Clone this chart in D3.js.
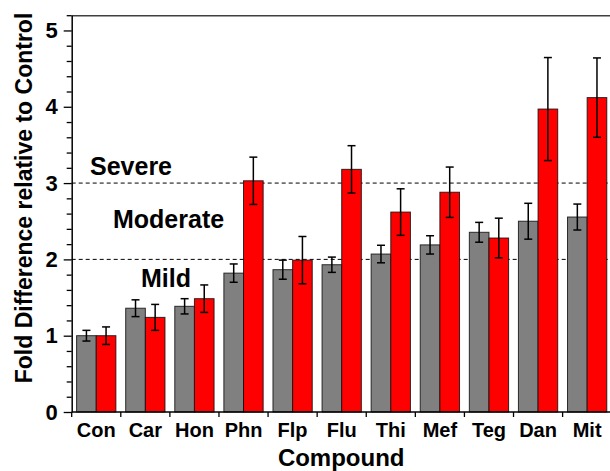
<!DOCTYPE html>
<html>
<head>
<meta charset="utf-8">
<script src="https://cdn.jsdelivr.net/npm/d3@7"></script>
<style>
  html, body { margin: 0; padding: 0; background: #fff; }
  svg { display: block; font-family: "Liberation Sans", Arial, Helvetica, sans-serif; font-weight: bold; }
</style>
</head>
<body>
<svg id="chart" width="610" height="471"></svg>
<script>
// Compounds and fold-change results (mean and error) for the two series
const compounds = ["Con", "Car", "Hon", "Phn", "Flp", "Flu", "Thi", "Mef", "Teg", "Dan", "Mit"];
const seriesNames = ["gray", "red"];
const grayMean = [1.00, 1.36, 1.385, 1.82, 1.865, 1.93, 2.07, 2.19, 2.355, 2.50, 2.555];
const grayErr  = [0.07, 0.11, 0.10, 0.12, 0.125, 0.10, 0.115, 0.12, 0.13, 0.235, 0.17];
const redMean  = [1.00, 1.24, 1.485, 3.03, 1.99, 3.18, 2.62, 2.88, 2.28, 3.97, 4.12];
const redErr   = [0.115, 0.17, 0.18, 0.31, 0.31, 0.31, 0.305, 0.33, 0.26, 0.675, 0.52];
const yTicks = [0, 1, 2, 3, 4, 5];
const thresholds = [2, 3];
const severityLabels = ["Mild", "Moderate", "Severe"];

const svg = d3.select("#chart");
const plotLeft = 71.7, plotRight = 611.7, plotTop = 15.2, plotBottom = 412;

const x = d3.scaleBand().domain(compounds).range([plotLeft, plotRight])
  .paddingInner(0.2).paddingOuter(0.1);
const xSub = d3.scaleBand().domain(seriesNames).range([0, x.bandwidth()]);
const y = d3.scaleLinear().domain([0, 5.2]).range([plotBottom, plotTop]);
const fill = { gray: "#808080", red: "#ff0000" };

// threshold lines
svg.append("g").selectAll("line").data(thresholds).join("line")
  .attr("x1", plotLeft).attr("x2", 610)
  .attr("y1", d => y(d)).attr("y2", d => y(d))
  .attr("stroke", "#000").attr("stroke-width", 1)
  .attr("stroke-dasharray", "4,3");

// bars
const rows = compounds.map((c, i) => ({
  c,
  vals: [
    { s: "gray", v: grayMean[i], e: grayErr[i] },
    { s: "red", v: redMean[i], e: redErr[i] }
  ]
}));

const groups = svg.append("g").selectAll("g").data(rows).join("g")
  .attr("transform", d => `translate(${x(d.c)},0)`);

groups.selectAll("rect").data(d => d.vals).join("rect")
  .attr("x", d => xSub(d.s)).attr("width", xSub.bandwidth())
  .attr("y", d => y(d.v)).attr("height", d => y(0) - y(d.v))
  .attr("fill", d => fill[d.s])
  .attr("stroke", "#111").attr("stroke-opacity", 0.85).attr("stroke-width", 1);

// error bars
const eb = groups.selectAll("g.err").data(d => d.vals).join("g").attr("class", "err")
  .attr("stroke", "#000").attr("stroke-width", 1.5);
const cx = d => xSub(d.s) + xSub.bandwidth() / 2;
eb.append("line")
  .attr("x1", cx).attr("x2", cx)
  .attr("y1", d => y(d.v + d.e)).attr("y2", d => y(d.v - d.e));
eb.append("line")
  .attr("x1", d => cx(d) - 4).attr("x2", d => cx(d) + 4)
  .attr("y1", d => y(d.v + d.e)).attr("y2", d => y(d.v + d.e));
eb.append("line")
  .attr("x1", d => cx(d) - 4).attr("x2", d => cx(d) + 4)
  .attr("y1", d => y(d.v - d.e)).attr("y2", d => y(d.v - d.e));

// top frame line
svg.append("line").attr("x1", plotLeft).attr("x2", 610).attr("y1", plotTop + 0.5).attr("y2", plotTop + 0.5)
  .attr("stroke", "#404040").attr("stroke-width", 1.5);

// y axis with minor ticks
const yMinor = d3.range(0, 5.2001, 0.2).map(v => +v.toFixed(1)).filter(v => !yTicks.includes(v));
svg.append("g").attr("transform", `translate(${plotLeft},0)`)
  .call(d3.axisLeft(y).tickValues(yMinor).tickSize(5).tickFormat(""))
  .call(g => g.select(".domain").remove())
  .call(g => g.selectAll("line").attr("stroke-width", 1.3));
const yAxis = svg.append("g").attr("transform", `translate(${plotLeft},0)`)
  .call(d3.axisLeft(y).tickValues(yTicks).tickSize(8).tickSizeOuter(0).tickPadding(6).tickFormat(d3.format("d")));
yAxis.select(".domain").attr("stroke-width", 1.5);
yAxis.selectAll("line").attr("stroke-width", 1.3);
yAxis.selectAll("text").attr("font-size", 22).attr("font-weight", "bold")
  .attr("font-family", "Liberation Sans, Arial, sans-serif").attr("fill", "#000");

// x axis: line plus ticks on group boundaries
const bounds = d3.range(compounds.length + 1).map(i => plotLeft + x.step() * i);
svg.append("line").attr("x1", plotLeft).attr("x2", 610).attr("y1", plotBottom).attr("y2", plotBottom)
  .attr("stroke", "#000").attr("stroke-width", 1.5);
svg.append("g").selectAll("line").data(bounds).join("line")
  .attr("x1", d => d).attr("x2", d => d).attr("y1", plotBottom).attr("y2", plotBottom + 5)
  .attr("stroke", "#000").attr("stroke-width", 1.3);
svg.append("g").selectAll("text").data(compounds).join("text")
  .attr("x", d => x(d) + x.bandwidth() / 2).attr("y", 436.7)
  .attr("text-anchor", "middle").attr("font-size", 20).text(d => d);

// axis titles
svg.append("text").attr("x", (plotLeft + plotRight) / 2 - 0.5).attr("y", 465.5)
  .attr("text-anchor", "middle").attr("font-size", 24).text("Compound");
svg.append("text").attr("transform", "translate(32,198) rotate(-90)")
  .attr("text-anchor", "middle").attr("font-size", 23).text("Fold Difference relative to Control");

// severity band labels
const labelPos = [[141, 286.7], [113, 228.3], [90, 175]];
svg.append("g").selectAll("text").data(severityLabels).join("text")
  .attr("x", (d, i) => labelPos[i][0]).attr("y", (d, i) => labelPos[i][1])
  .attr("font-size", 25).text(d => d);
</script>
</body>
</html>
